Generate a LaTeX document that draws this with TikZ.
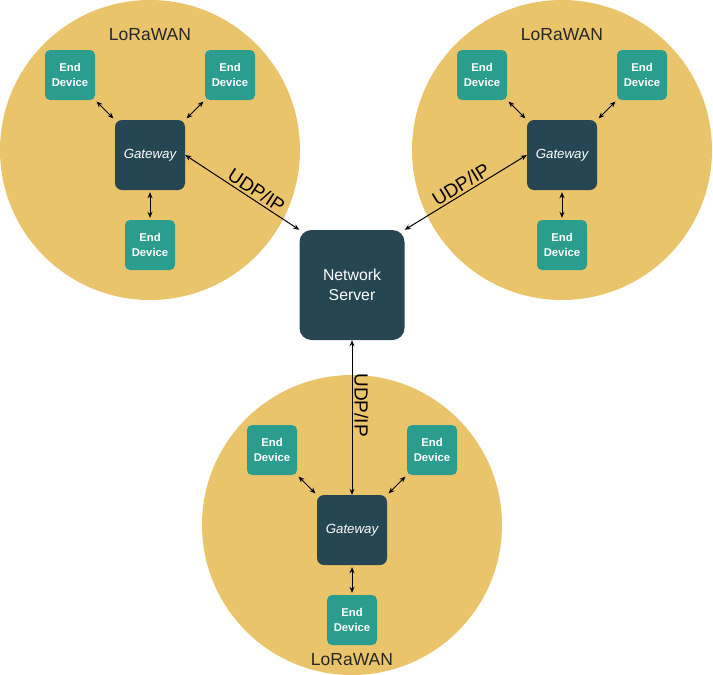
\documentclass[tikz,border=0pt]{standalone}
\usepackage{fontspec}
\setmainfont{Liberation Sans}
\usetikzlibrary{arrows.meta}
\definecolor{sand}{HTML}{E9C46A}
\definecolor{edteal}{HTML}{2A9D8F}
\definecolor{gwdark}{HTML}{264653}

\begin{document}
\begin{tikzpicture}[x=1pt,y=-1pt,
lan/.style={circle,fill=sand,minimum size=300pt,inner sep=0pt},
enddev/.style={fill=edteal,rounded corners=5pt,minimum width=50pt,minimum height=50pt,inner sep=0pt,text=white,align=center,font=\bfseries\fontsize{11.3}{15}\selectfont},
gw/.style={fill=gwdark,rounded corners=7pt,minimum size=70pt,inner sep=0pt,text=white,font=\itshape\fontsize{13.3}{16}\selectfont},
server/.style={fill=gwdark,rounded corners=12pt,minimum width=105pt,minimum height=110pt,inner sep=0pt,text=white,align=center,font=\fontsize{15.8}{20.5}\selectfont},
lanlabel/.style={text=black!85,font=\fontsize{17.5}{20}\selectfont},
link/.style={black,line width=1pt,{Stealth[length=6pt,width=5pt]}-{Stealth[length=6pt,width=5pt]},shorten <=2pt,shorten >=2pt},
udp/.style={font=\fontsize{19}{22}\selectfont,sloped,above,inner sep=2pt}]

\useasboundingbox (0,0) rectangle (713,675);

\foreach \n/\cx/\cy/\ly in {A/150/150/-115, B/562/150/-115, C/352/525/135}{
	\node[lan] (lan\n) at (\cx,\cy) {};
	\node[lanlabel] (lbl\n) at (\cx,\cy+\ly) {LoRaWAN};
	\node[gw] (gw\n) at (\cx,\cy+5) {Gateway};
	\node[enddev] (ed\n1) at (\cx-80,\cy-75) {End\\Device};
	\node[enddev] (ed\n2) at (\cx+80,\cy-75) {End\\Device};
	\node[enddev] (ed\n3) at (\cx,\cy+95) {End\\Device};
	\draw[link] (ed\n1.south east) -- (gw\n.north west);
	\draw[link] (ed\n2.south west) -- (gw\n.north east);
	\draw[link] (gw\n.south) -- (ed\n3.north);
}

\node[server] (ns) at (352,285) {Network\\Server};

\draw[link,shorten <=0pt,shorten >=0pt] (gwA.east) -- (ns.north west) node[udp,pos=0.58] {UDP/IP};
\draw[link,shorten <=0pt,shorten >=0pt] (gwB.west) -- (ns.north east) node[udp,pos=0.5] {UDP/IP};
\draw[link,shorten <=0pt,shorten >=0pt] (ns.south) -- (gwC.north) node[udp,pos=0.42] {UDP/IP};
\end{tikzpicture}
\end{document}
